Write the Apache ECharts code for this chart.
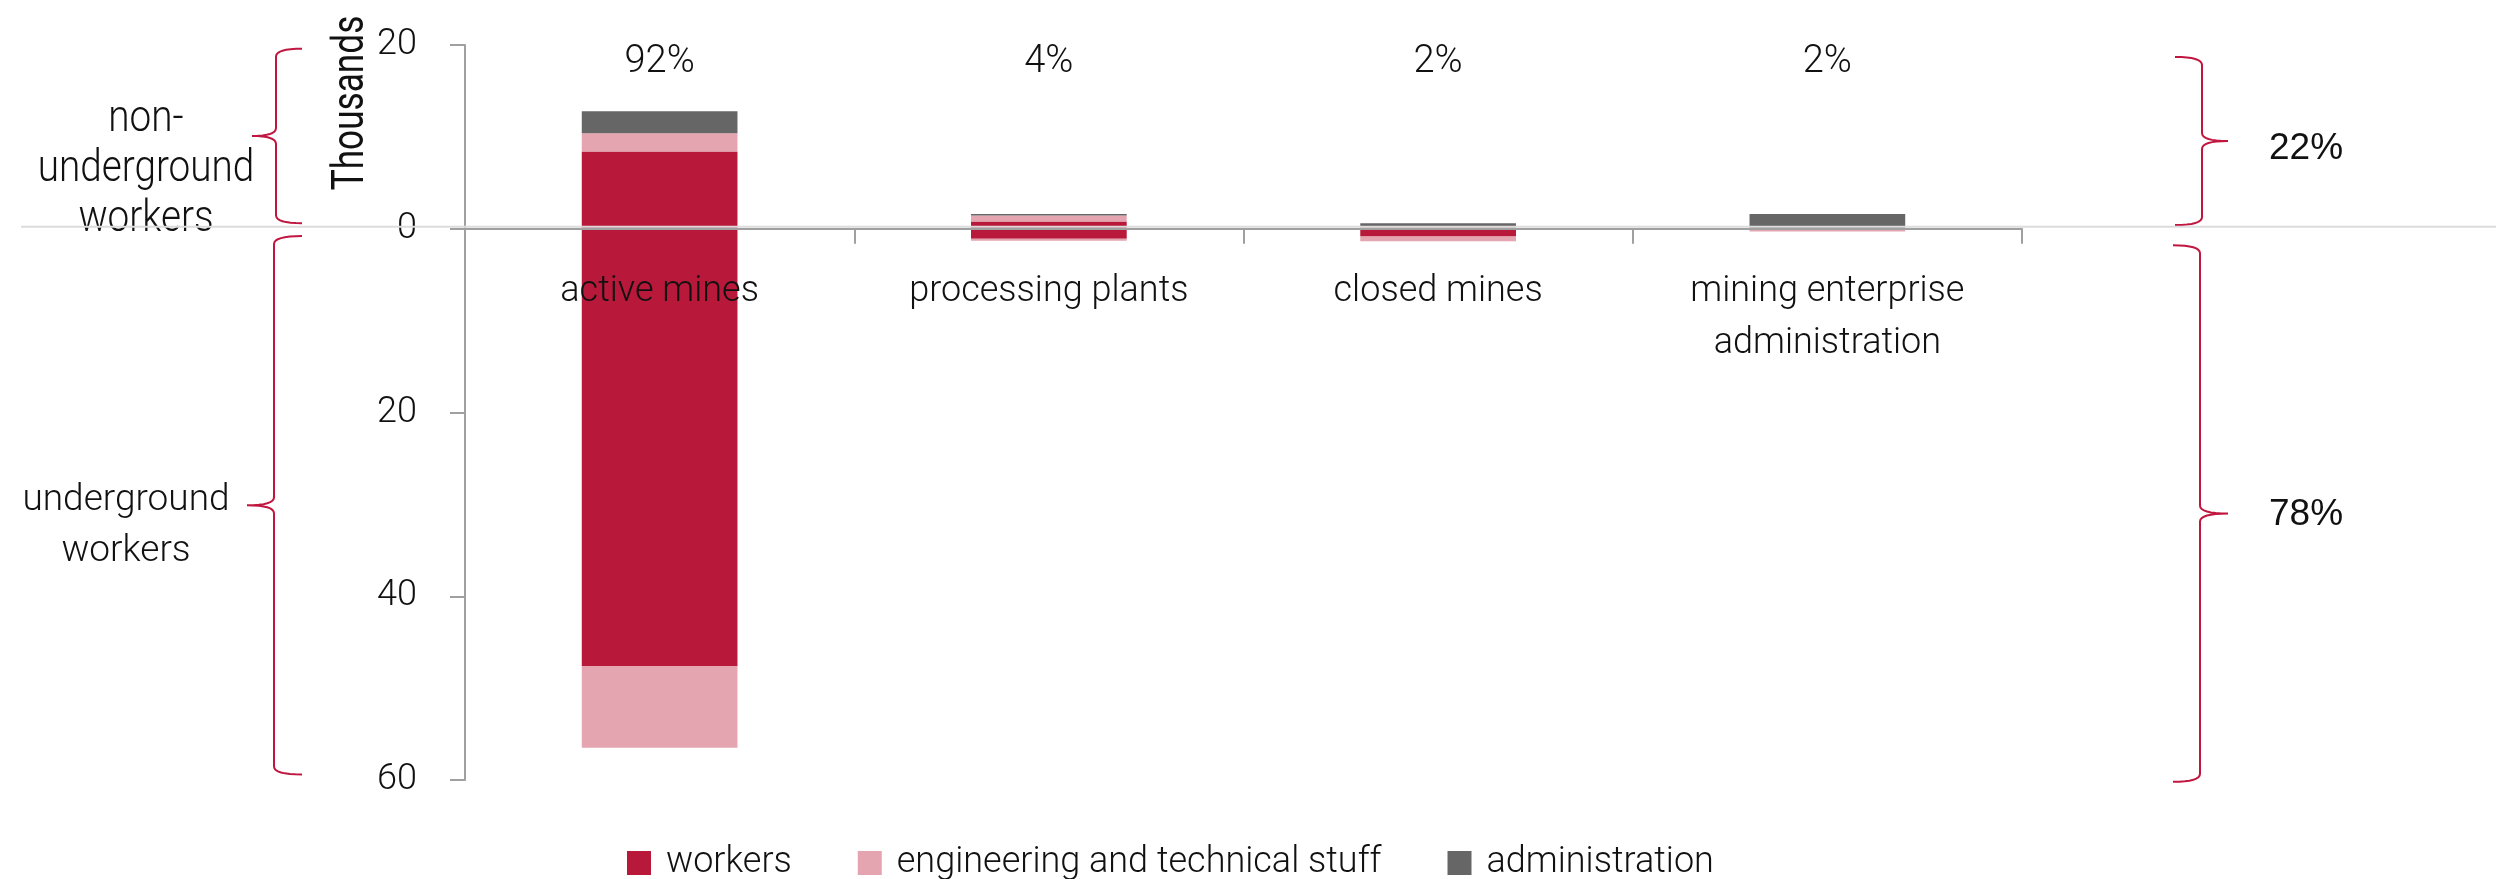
<!DOCTYPE html>
<html>
<head>
    <meta charset="utf-8">
    <title>Mining employment</title>
    <script src="https://cdn.jsdelivr.net/npm/echarts@6/dist/echarts.min.js"></script>
    <style>
        html, body { margin: 0; padding: 0; background: #fff; }
        #main { width: 2496px; height: 879px; }
    </style>
</head>
<body>
<div id="main"></div>
<script>
    // thousands of people; above zero = non-underground, below zero = underground
    var categories = ['active mines', 'processing plants', 'closed mines', 'mining enterprise\nadministration'];
    var shareLabels = ['92%', '4%', '2%', '2%'];
    var seriesNames = ['workers', 'engineering and technical stuff', 'administration'];
    var colors = ['#b81839', '#e4a4b0', '#666666'];

    var surfaceWorkers = [8.4, 0.8, 0.1, 0];
    var surfaceEngineers = [2.0, 0.65, 0.05, 0.05];
    var surfaceAdmin = [2.4, 0.15, 0.45, 1.55];

    var undergroundWorkers = [47.6, 1.1, 0.85, 0.05];
    var undergroundEngineers = [8.9, 0.2, 0.5, 0.25];
    var undergroundAdmin = [0, 0, 0, 0];

    var yTicks = [-60, -40, -20, 0, 20];
    var groupShares = ['22%', '78%'];
    var groupNames = ['non-\nunderground\nworkers', 'underground\nworkers'];

    var surface = [surfaceWorkers, surfaceEngineers, surfaceAdmin];
    var underground = [undergroundWorkers, undergroundEngineers, undergroundAdmin];

    var font = 'Roboto';
    var series = [];
    for (var i = 0; i < seriesNames.length; i++) {
        series.push({
            name: seriesNames[i], type: 'bar', stack: 'total', barWidth: '40%',
            itemStyle: {color: colors[i]}, data: surface[i]
        });
        series.push({
            name: seriesNames[i], type: 'bar', stack: 'total', barWidth: '40%',
            itemStyle: {color: colors[i]},
            data: underground[i].map(function (v) { return -v; })
        });
    }

    var gridTop = 45, gridBottom = 99, H = 879;
    var yMin = yTicks[0], yMax = yTicks[yTicks.length - 1];
    // move the category axis up to the zero line (labels follow it)
    var zeroOffset = -(H - gridTop - gridBottom) * (0 - yMin) / (yMax - yMin);

    var chart = echarts.init(document.getElementById('main'));
    chart.setOption({
        animation: false,
        grid: {left: 465, right: 474, top: gridTop, bottom: gridBottom, outerBoundsMode: 'none', containLabel: false},
        legend: {
            data: seriesNames,
            left: 622, top: 840,
            icon: 'rect', itemWidth: 24, itemHeight: 24, itemGap: 66,
            textStyle: {fontFamily: font, fontWeight: 300, fontSize: 36, color: '#111',
                lineHeight: 36, padding: [0, 0, 0, 10]}
        },
        xAxis: [
            {
                type: 'category', data: categories, offset: zeroOffset, z: 10,
                axisLine: {onZero: false, lineStyle: {color: '#a0a0a0', width: 2}},
                axisTick: {show: true, length: 15, lineStyle: {color: '#a0a0a0', width: 2}},
                axisLabel: {fontFamily: font, fontWeight: 300, fontSize: 36, color: '#111',
                    margin: 37, lineHeight: 52}
            },
            {
                type: 'category', data: shareLabels, position: 'top',
                axisLine: {show: false, onZero: false}, axisTick: {show: false},
                axisLabel: {fontFamily: font, fontWeight: 300, fontSize: 38, color: '#111',
                    margin: -17, verticalAlign: 'middle'}
            }
        ],
        yAxis: {
            type: 'value', min: yMin, max: yMax,
            interval: yTicks[1] - yTicks[0],
            splitLine: {show: false},
            axisLine: {show: true, lineStyle: {color: '#a0a0a0', width: 2}},
            axisTick: {show: true, length: 15, lineStyle: {color: '#a0a0a0', width: 2}},
            axisLabel: {fontFamily: font, fontWeight: 300, fontSize: 36, color: '#111', margin: 48,
                formatter: function (v) { return Math.abs(v); }}
        },
        series: series
    });

    // brackets and side notes
    function py(v) { return chart.convertToPixel({yAxisIndex: 0}, v); }
    function quad(p0, p1, p2, out) {
        for (var t = 0; t <= 1.0001; t += 0.125) {
            var a = (1 - t) * (1 - t), b = 2 * (1 - t) * t, c = t * t;
            out.push([a * p0[0] + b * p1[0] + c * p2[0], a * p0[1] + b * p1[1] + c * p2[1]]);
        }
    }
    function brace(spine, tip, point, top, bottom) {
        var m = (top + bottom) / 2, pts = [];
        quad([tip, top], [spine, top], [spine, top + 8], pts);
        quad([spine, m - 8], [spine, m], [point, m], pts);
        quad([point, m], [spine, m], [spine, m + 8], pts);
        quad([spine, bottom - 8], [spine, bottom], [tip, bottom], pts);
        return {type: 'polyline', shape: {points: pts},
            style: {stroke: '#c0163f', lineWidth: 2, fill: null}};
    }
    var y0 = py(0);
    var gUp = [py(19.6), py(0.6)], gDown = [py(-0.8), py(-59.4)];
    var rUp = [py(18.7), py(0.4)], rDown = [py(-1.8), py(-60.2)];

    chart.setOption({
        graphic: [
            {type: 'line', z: 100, shape: {x1: 21, y1: y0 - 2, x2: 2496, y2: y0 - 2},
                style: {stroke: '#dcdcdc', lineWidth: 2}},
            brace(276, 302, 252, gUp[0], gUp[1]),
            brace(274, 302, 247, gDown[0], gDown[1]),
            brace(2202, 2175, 2228, rUp[0], rUp[1]),
            brace(2200, 2173, 2228, rDown[0], rDown[1]),
            {type: 'text', x: 146, y: 170, scaleX: 0.86,
                style: {text: groupNames[0], fontFamily: font, fontWeight: 300, fontSize: 45,
                    lineHeight: 50, fill: '#111', align: 'center', verticalAlign: 'middle'}},
            {type: 'text', x: 126, y: 526,
                style: {text: groupNames[1], fontFamily: font, fontWeight: 300, fontSize: 37,
                    lineHeight: 51, fill: '#111', align: 'center', verticalAlign: 'middle'}},
            {type: 'text', x: 352, y: 103, rotation: Math.PI / 2, scaleX: 0.8,
                style: {text: 'Thousands', fontFamily: font, fontWeight: 400, fontSize: 44,
                    fill: '#111', align: 'center', verticalAlign: 'middle'}},
            {type: 'text', x: 2306, y: (rUp[0] + rUp[1]) / 2 + 8,
                style: {text: groupShares[0], fontFamily: 'Liberation Sans', fontSize: 37,
                    fill: '#111', align: 'center', verticalAlign: 'middle'}},
            {type: 'text', x: 2306, y: (rDown[0] + rDown[1]) / 2 + 1,
                style: {text: groupShares[1], fontFamily: 'Liberation Sans', fontSize: 37,
                    fill: '#111', align: 'center', verticalAlign: 'middle'}}
        ]
    });
</script>
</body>
</html>
